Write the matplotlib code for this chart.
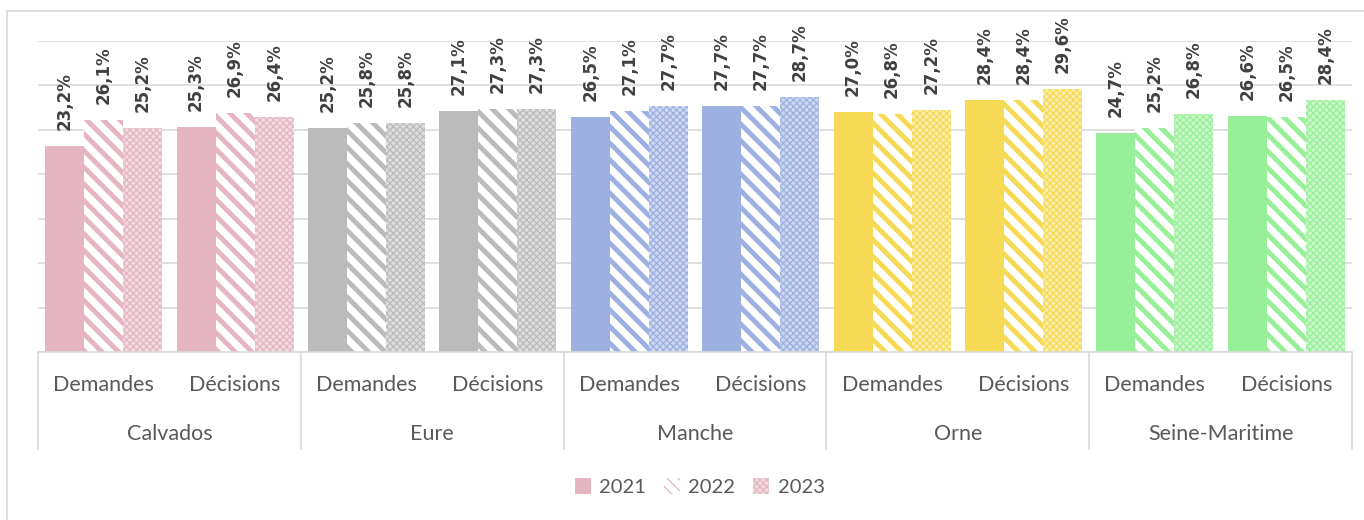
import numpy as np
import matplotlib.pyplot as plt
from matplotlib.patches import Rectangle, Patch
from matplotlib.colors import to_rgb

departements = ['Calvados', 'Eure', 'Manche', 'Orne', 'Seine-Maritime']
categories = ['Demandes', 'Décisions']
annees = ['2021', '2022', '2023']
couleurs = ['#E5B5C1', '#BBBBBB', '#9DB0E2', '#F6DA55', '#97F097']

v2021 = [23.2, 25.3, 25.2, 27.1, 26.5, 27.7, 27.0, 28.4, 24.7, 26.6]
v2022 = [26.1, 26.9, 25.8, 27.3, 27.1, 27.7, 26.8, 28.4, 25.2, 26.5]
v2023 = [25.2, 26.4, 25.8, 27.3, 27.7, 28.7, 27.2, 29.6, 26.8, 28.4]
series = [v2021, v2022, v2023]


def lighten(c, f):
    r = np.array(to_rgb(c))
    return tuple(r + (1 - r) * f)


def style(s, col, legende=False):
    # rayures pour 2022, quadrillage fin pour 2023
    if s == 0:
        plt.rcParams['hatch.linewidth'] = 1.0
        return dict(facecolor=col, linewidth=0)
    if s == 1:
        plt.rcParams['hatch.linewidth'] = 2.5 if legende else 3.5
        return dict(facecolor='white', edgecolor=col, hatch='\\\\\\' if legende else '\\\\', linewidth=0)
    plt.rcParams['hatch.linewidth'] = 0.9
    return dict(facecolor=lighten(col, 0.5), edgecolor=col, hatch='xxxxx', linewidth=0)


fig = plt.figure(figsize=(13.64, 5.20), dpi=100)
ax = fig.add_axes([38 / 1364, 1 - 352 / 520, (1352 - 38) / 1364, 311 / 520])

n = len(departements) * len(categories)
x = np.arange(n)
w = 0.297

for s, vals in enumerate(series):
    for i in range(n):
        col = couleurs[i // 2]
        xi = x[i] + (s - 1) * w
        ax.bar(xi, vals[i], w, **style(s, col))
        ax.annotate(f'{vals[i]:.1f}%'.replace('.', ','), (xi, vals[i]), xytext=(0, 11.5),
                    textcoords='offset points', rotation=90, ha='center', va='bottom',
                    fontsize=12, fontweight='bold', color='#404040',
                    family=['Liberation Sans Narrow', 'DejaVu Sans'])

ax.set_xlim(-0.5, n - 0.5)
ax.set_ylim(0, 35)
ax.set_yticks(np.arange(0, 36, 5))
ax.yaxis.grid(True, color='#D9D9D9', linewidth=1.2)
ax.set_axisbelow(True)
ax.tick_params(left=False, labelleft=False, bottom=False, labelbottom=False)
for sp in ['left', 'right', 'top']:
    ax.spines[sp].set_visible(False)
ax.spines['bottom'].set_color('#D9D9D9')
ax.spines['bottom'].set_linewidth(1.2)

trans = ax.get_xaxis_transform()
for i in range(n):
    ax.text(x[i], -0.106, categories[i % 2], transform=trans, ha='center', va='center',
            fontsize=15.5, color='#595959', family='Lato')
for g, d in enumerate(departements):
    ax.text(2 * g + 0.5, -0.264, d, transform=trans, ha='center', va='center',
            fontsize=15.5, color='#595959', family='Lato')
for g in range(len(departements) + 1):
    ax.plot([2 * g - 0.5, 2 * g - 0.5], [0, -0.312], transform=trans, color='#D9D9D9',
            linewidth=1.2, clip_on=False)

handles = [Patch(**style(s, couleurs[0], legende=True)) for s in range(3)]
fig.legend(handles, annees, loc='center', bbox_to_anchor=(0.513, 1 - 487 / 520), ncol=3,
           frameon=False, prop={'family': 'Lato', 'size': 14.5}, labelcolor='#595959',
           handlelength=0.8, handleheight=0.8, columnspacing=0.9, handletextpad=0.4)

fig.add_artist(Rectangle((7 / 1364, -0.1), 1.2, 1 - 11 / 520 + 0.1, transform=fig.transFigure,
                         fill=False, edgecolor='#D9D9D9', linewidth=1.2))

fig.savefig('out.png', dpi=100)
